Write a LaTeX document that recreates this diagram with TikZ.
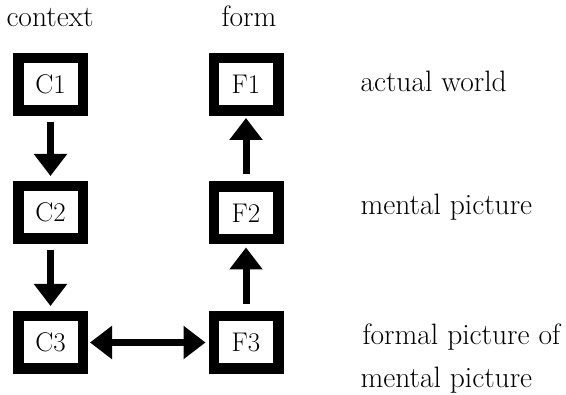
\documentclass[tikz,border=0pt]{standalone}
\usepackage{fontspec}
\usepackage{tikz}
\usetikzlibrary{positioning,arrows.meta}

\tikzset{
  frame/.style={draw, line width=10.5pt, minimum width=64.5pt, minimum height=52.5pt, inner sep=0pt, font=\fontsize{27}{32}\selectfont},
  label/.style={anchor=base west, font=\fontsize{29.5}{34}\selectfont},
  bigarrow/.style={line width=7pt, -{Triangle[width=32pt,length=22pt]}},
  bothways/.style={line width=7pt, {Triangle[width=32pt,length=22pt]}-{Triangle[width=32pt,length=22pt]}},
}

\begin{document}
\begin{tikzpicture}[x=1pt,y=-1pt]
  \useasboundingbox (0,0) rectangle (566,395);
  % texts
  \node[label, anchor=base] at(50,27)(ctx){context};
  \node[label, anchor=base] at(249,27)(frm){form};
  \node[label] at(357,92)(world){actual world};
  \node[label] at(357,215)(mental){mental picture};
  \node[label] at(359,345)(formal){formal picture of};
  \node[label] at(357,388)(mental2){mental picture};
  % context boxes
  \node[frame] at(50.5,84.5)(c1){C1};
  \node[frame] at(50.5,212.5)(c2){C2};
  \node[frame] at(50.5,342.5)(c3){C3};
  % form boxes
  \node[frame] at(246,84.5)(f1){F1};
  \node[frame] at(246,213)(f2){F2};
  \node[frame] at(246,342.5)(f3){F3};
  % arrows
  \draw[bigarrow, shorten <=6pt, shorten >=5pt] (c1) -- (c2);
  \draw[bigarrow, shorten <=6pt, shorten >=5pt] (c2) -- (c3);
  \draw[bigarrow, shorten <=7pt, shorten >=2pt] (f2) -- (f1);
  \draw[bigarrow, shorten <=7pt, shorten >=3pt] (f3) -- (f2);
  \draw[bothways, shorten <=2pt, shorten >=3pt] (c3) -- (f3);
\end{tikzpicture}
\end{document}
